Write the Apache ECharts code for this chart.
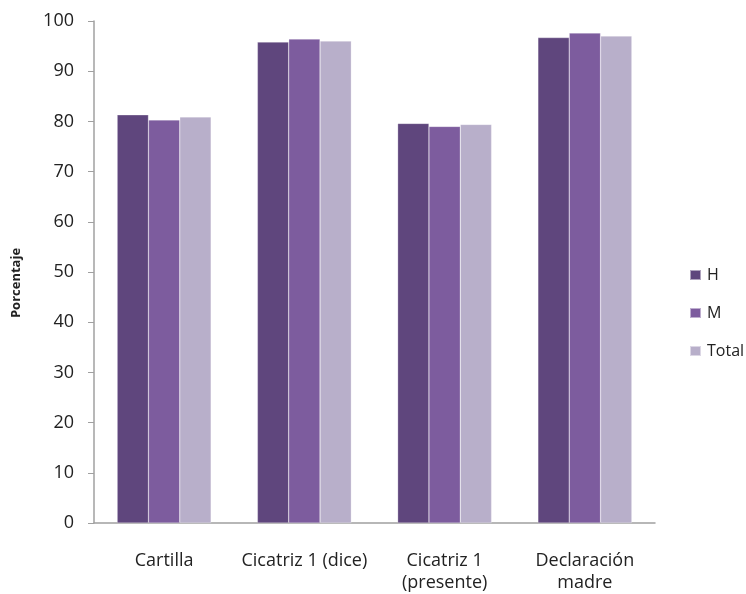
<!DOCTYPE html>
<html><head><meta charset="utf-8">
<script src="https://cdn.jsdelivr.net/npm/echarts@6/dist/echarts.min.js"></script>
<style>html,body{margin:0;padding:0;background:#fff}#c{width:746px;height:594px}</style>
</head><body><div id="c"></div>
<script>
var categories = ['Cartilla', 'Cicatriz 1 (dice)', 'Cicatriz 1\n(presente)', 'Declaración\nmadre'];
var seriesNames = ['H', 'M', 'Total'];
var valuesH = [81.3, 95.8, 79.6, 96.7];
var valuesM = [80.3, 96.4, 79.0, 97.6];
var valuesTotal = [80.9, 96.0, 79.4, 97.0];
var yTicks = [0, 10, 20, 30, 40, 50, 60, 70, 80, 90, 100];
var colors = ['#5f467d', '#7d5c9e', '#b8afca'];
var font = '"Open Sans", sans-serif';

var chart = echarts.init(document.getElementById('c'));
var data = [valuesH, valuesM, valuesTotal];
chart.setOption({
  animation: false,
  grid: {left: 94, right: 91, top: 21, bottom: 68},
  legend: {
    orient: 'vertical', left: 689, top: 264, itemGap: 16, padding: 0,
    itemWidth: 11, itemHeight: 10, icon: 'rect',
    data: seriesNames,
    textStyle: {fontFamily: font, fontSize: 16, color: '#222', lineHeight: 22, padding: [0,0,0,1]}
  },
  xAxis: {
    type: 'category', data: categories,
    axisLine: {lineStyle: {color: '#a0a0a0', width: 1.5}},
    axisTick: {show: false},
    axisLabel: {fontFamily: font, fontSize: 18, color: '#222', margin: 27, lineHeight: 22, interval: 0}
  },
  yAxis: {
    type: 'value', min: yTicks[0], max: yTicks[yTicks.length-1], interval: 10,
    name: 'Porcentaje', nameLocation: 'middle', nameGap: 71, nameRotate: 90,
    nameTextStyle: {fontFamily: font, fontSize: 13, fontWeight: 'bold', color: '#222', padding: [0, 22, 0, 0]},
    axisLine: {show: true, lineStyle: {color: '#a0a0a0', width: 1.5}},
    axisTick: {show: true, inside: false, length: 6, lineStyle: {color: '#a0a0a0'}},
    splitLine: {show: false},
    axisLabel: {fontFamily: font, fontSize: 18, color: '#222', margin: 20}
  },
  series: seriesNames.map(function(n, i){
    return {
      name: n, type: 'bar', data: data[i],
      barGap: '0%', barCategoryGap: '33%',
      itemStyle: {color: colors[i], borderColor: 'rgba(255,255,255,0.5)', borderWidth: 0.5}
    };
  })
});
</script></body></html>
